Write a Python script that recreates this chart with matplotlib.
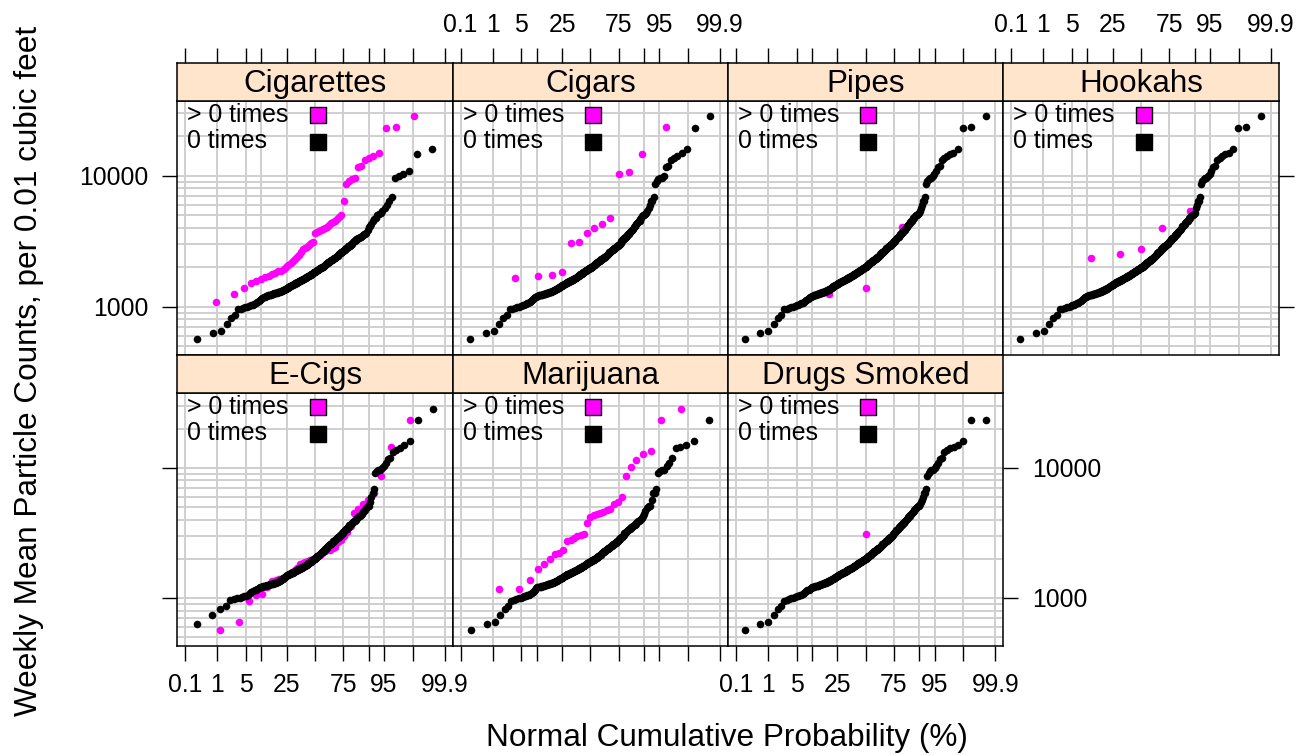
import numpy as np
import matplotlib
matplotlib.use("Agg")
import matplotlib.pyplot as plt
from matplotlib.ticker import FixedLocator, FixedFormatter, NullLocator, NullFormatter
from statistics import NormalDist

plt.rcParams['font.family'] = ['Liberation Sans', 'DejaVu Sans']

# weekly mean particle counts of all households (sorted), per 0.01 cubic feet
counts = [
    562, 626, 652, 737, 815, 863, 954, 966, 977, 990,
    1001, 1012, 1025, 1035, 1049, 1061, 1074, 1092, 1107, 1126,
    1141, 1159, 1176, 1190, 1207, 1211, 1218, 1222, 1229, 1233,
    1240, 1244, 1250, 1257, 1261, 1269, 1273, 1281, 1285, 1293,
    1297, 1305, 1310, 1319, 1325, 1335, 1341, 1351, 1357, 1367,
    1373, 1383, 1389, 1397, 1407, 1415, 1426, 1433, 1445, 1452,
    1463, 1471, 1482, 1489, 1501, 1509, 1517, 1522, 1531, 1536,
    1545, 1550, 1559, 1564, 1573, 1578, 1587, 1592, 1600, 1609,
    1615, 1625, 1631, 1641, 1646, 1656, 1662, 1672, 1678, 1688,
    1694, 1704, 1709, 1718, 1728, 1735, 1746, 1753, 1765, 1772,
    1783, 1790, 1801, 1808, 1819, 1826, 1838, 1845, 1855, 1865,
    1873, 1884, 1892, 1903, 1911, 1922, 1929, 1941, 1948, 1960,
    1967, 1978, 1986, 1997, 2005, 2016, 2025, 2040, 2052, 2069,
    2081, 2097, 2109, 2125, 2138, 2154, 2166, 2182, 2195, 2210,
    2225, 2236, 2252, 2263, 2279, 2291, 2306, 2318, 2333, 2345,
    2361, 2372, 2388, 2399, 2414, 2435, 2453, 2475, 2493, 2516,
    2534, 2556, 2574, 2596, 2614, 2636, 2654, 2677, 2695, 2716,
    2739, 2759, 2783, 2802, 2826, 2846, 2870, 2890, 2914, 2933,
    2957, 2977, 3000, 3034, 3066, 3101, 3132, 3168, 3199, 3234,
    3266, 3301, 3332, 3368, 3399, 3433, 3477, 3518, 3564, 3605,
    3650, 3691, 3736, 3777, 3823, 3864, 3908, 3973, 4035, 4101,
    4164, 4230, 4292, 4358, 4421, 4487, 4550, 4640, 4720, 4800,
    4890, 5000, 5060, 5120, 5240, 5430, 5660, 6000, 6366, 6370,
    6870, 8630, 9056, 9430, 9597, 9600, 10000, 10350, 10800, 11640,
    11930, 13250, 13640, 14050, 14550, 14830, 16100, 23180, 23420, 28430]

# households that used the product indoors (> 0 times)
cig_users = [1079, 1243, 1390, 1527, 1582, 1638, 1676, 1726, 1778, 1820,
             1864, 1887, 1931, 2000, 2084, 2172, 2235, 2301, 2414, 2485,
             2635, 2746, 2812, 2878, 2945, 3052, 3143, 3681, 3748, 3794,
             3862, 3908, 3976, 4093, 4217, 4345, 4420, 4550, 4688, 4886,
             5060, 6366, 8630, 9056, 9430, 9597, 11640, 11930, 13250, 13640,
             14050, 14830, 23180, 23420, 28430]
cigar_users = [1668, 1718, 1747, 1842, 3090, 3108, 3681, 4000, 4245, 4775,
               10300, 10610, 14660, 23420]
pipe_users = [1243, 1380, 4090]
hookah_users = [2344, 2518, 2781, 4000, 5430]
ecig_users = [562, 652, 954, 1048, 1075, 1207, 1350, 1366, 1390, 1434,
              1481, 1537, 1579, 1632, 1703, 1818, 1846, 1883, 1921, 1959,
              1996, 2025, 2096, 2150, 2224, 2278, 2319, 2346, 2400, 2474,
              2686, 2803, 3000, 3233, 3563, 4486, 4800, 5240, 5660, 6370,
              8630, 14550, 23180]
mj_users = [1165, 1172, 1366, 1679, 1832, 2003, 2164, 2228, 2322, 2735,
            2800, 2883, 2970, 3060, 3114, 3784, 4181, 4305, 4385, 4488,
            4594, 4700, 4786, 5290, 5445, 5955, 8570, 10110, 11510, 12800,
            13330, 23330, 28110]
drug_users = [3078]
drug_missing = [28430]

names = ["Cigarettes", "Cigars", "Pipes", "Hookahs", "E-Cigs", "Marijuana", "Drugs Smoked"]
users = [cig_users, cigar_users, pipe_users, hookah_users, ecig_users, mj_users, drug_users]
missing = [[], [], [], [], [], [], drug_missing]

pct_ticks = [0.1, 1, 5, 10, 25, 50, 75, 90, 95, 99, 99.9]
pct_labels = ['0.1', '1', '5', '', '25', '', '75', '', '95', '', '99.9']
y_minor = [500, 600, 700, 800, 900, 2000, 3000, 4000, 5000, 6000, 7000, 8000, 9000, 20000, 30000]

nd = NormalDist()


def probit(p):
    p = np.clip(np.asarray(p, dtype=float) / 100.0, 1e-12, 1 - 1e-12)
    return np.vectorize(nd.inv_cdf, otypes=[float])(p)


def inv_probit(z):
    return np.vectorize(nd.cdf, otypes=[float])(np.asarray(z, dtype=float)) * 100.0


def ppoints(n):
    a = 3 / 8 if n <= 10 else 0.5
    return (np.arange(1, n + 1) - a) / (n + 1 - 2 * a) * 100


def drop(values, remove):
    rest = list(values)
    for r in remove:
        j = min(range(len(rest)), key=lambda k: abs(np.log(rest[k] / r)))
        rest.pop(j)
    return rest


W, H = 1313, 755
fig = plt.figure(figsize=(W / 100, H / 100), dpi=100)


def fbox(x0, y0, x1, y1):
    return [x0 / W, 1 - y1 / H, (x1 - x0) / W, (y1 - y0) / H]


col_x = [177.3, 452.7, 728.0, 1003.3]
cw = 275.3
strip_top = [63.3, 355.0]
strip_bot = [101.0, 393.3]
panel_bot = [355.0, 646.0]
xlim = (float(inv_probit(-3.28)), float(inv_probit(3.28)))
tick_len = 10.8
fs_tick = 17.8
dot = 30

for k, name in enumerate(names):
    row, col = divmod(k, 4)
    x0 = col_x[col]

    ax = fig.add_axes(fbox(x0, strip_bot[row], x0 + cw, panel_bot[row]))
    ax.set_xscale('function', functions=(probit, inv_probit))
    ax.set_yscale('log')
    ax.set_xlim(*xlim)
    ax.set_ylim(427, 37300)
    ax.xaxis.set_major_locator(FixedLocator(pct_ticks))
    ax.xaxis.set_major_formatter(FixedFormatter(pct_labels))
    ax.xaxis.set_minor_locator(NullLocator())
    ax.yaxis.set_major_locator(FixedLocator([1000, 10000]))
    ax.yaxis.set_major_formatter(FixedFormatter(['1000', '10000']))
    ax.yaxis.set_minor_locator(FixedLocator(y_minor))
    ax.yaxis.set_minor_formatter(NullFormatter())
    ax.grid(True, which='both', color='#cfcfcf', lw=1.4)
    ax.set_axisbelow(True)
    ax.tick_params(which='minor', length=0, left=False, right=False)
    ax.tick_params(axis='x', which='major', bottom=(row == 1), top=False,
                   labelbottom=(row == 1 and col in (0, 2)), labeltop=False,
                   length=tick_len, width=1, direction='out', pad=9, labelsize=fs_tick)
    ax.tick_params(axis='y', which='major', left=(col == 0),
                   right=(col == 3 or (row == 1 and col == 2)),
                   labelleft=(row == 0 and col == 0), labelright=(row == 1 and col == 2),
                   length=tick_len, width=1, direction='out', pad=10, labelsize=fs_tick)
    for s in ax.spines.values():
        s.set_linewidth(1.1)

    mag = sorted(users[k])
    blk = sorted(drop(counts, users[k] + missing[k]))
    ax.scatter(ppoints(len(mag)), mag, s=dot, c='#ff00ff', lw=0, zorder=3)
    ax.scatter(ppoints(len(blk)), blk, s=dot, c='black', lw=0, zorder=4)

    # key
    ax.text(0.036, 0.918, '> 0 times', transform=ax.transAxes, fontsize=17.9, va='baseline')
    ax.text(0.036, 0.814, '0 times', transform=ax.transAxes, fontsize=17.9, va='baseline')
    ax.scatter([0.51], [0.945], s=125, marker='s', c='#ff00ff', edgecolors='black',
               linewidths=1, transform=ax.transAxes, zorder=5, clip_on=False)
    ax.scatter([0.51], [0.840], s=125, marker='s', c='black', edgecolors='black',
               linewidths=1, transform=ax.transAxes, zorder=5, clip_on=False)

    # strip
    sax = fig.add_axes(fbox(x0, strip_top[row], x0 + cw, strip_bot[row]))
    sax.set_facecolor('#ffe5cc')
    sax.set_xscale('function', functions=(probit, inv_probit))
    sax.set_xlim(*xlim)
    sax.set_ylim(0, 1)
    sax.xaxis.set_major_locator(FixedLocator(pct_ticks))
    sax.xaxis.set_major_formatter(FixedFormatter(pct_labels))
    sax.xaxis.set_minor_locator(NullLocator())
    sax.set_yticks([])
    sax.tick_params(axis='x', bottom=False, labelbottom=False, top=(row == 0),
                    labeltop=(row == 0 and col in (1, 3)), length=tick_len, width=1,
                    direction='out', pad=8, labelsize=fs_tick)
    for s in sax.spines.values():
        s.set_linewidth(1.1)
    sax.text(0.5, 0.25, name, transform=sax.transAxes, ha='center', va='baseline', fontsize=22.6)

fig.text(727 / W, 1 - 746 / H, 'Normal Cumulative Probability (%)', ha='center', va='baseline',
         fontsize=22.7)
fig.text(29 / W, 1 - 371 / H, 'Weekly Mean Particle Counts, per 0.01 cubic feet', rotation=90,
         ha='center', va='center', fontsize=22.7)

fig.savefig('out.png', dpi=100)
